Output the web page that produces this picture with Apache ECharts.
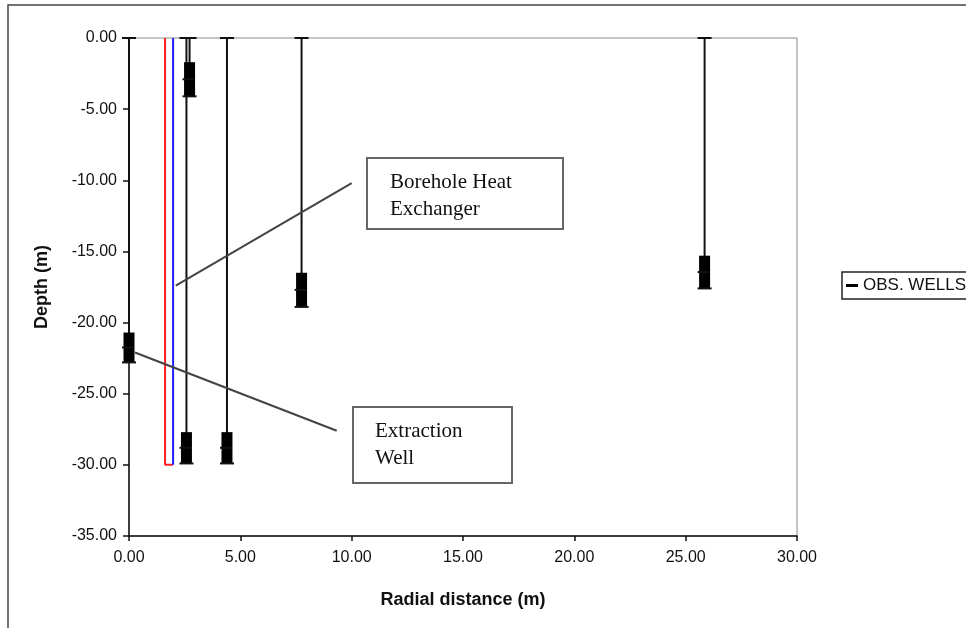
<!DOCTYPE html>
<html>
<head>
<meta charset="utf-8">
<script src="https://cdn.jsdelivr.net/npm/echarts@6/dist/echarts.min.js"></script>
<style>html,body{margin:0;padding:0;background:#fff;}#c{width:966px;height:628px;}</style>
</head>
<body>
<div id="c"></div>
<script>
// Observation wells: radial distance (m), screen top / bottom depth (m)
var wellX        = [0.00, 2.58, 2.72, 4.40, 7.75, 25.85];
var screenTop    = [-20.7, -27.7, -1.7, -27.7, -16.5, -15.3];
var screenBottom = [-22.8, -29.9, -4.1, -29.9, -18.9, -17.6];
// Borehole heat exchanger (U-loop)
var bheRed  = [[1.62, 0], [1.62, -30], [1.98, -30]];
var bheBlue = [[1.98, -30], [1.98, 0]];
// Axis ticks
var xTicks = {min: 0, max: 30, interval: 5};
var yTicks = {min: -35, max: 0, interval: 5};
// Annotation leader lines (data coords)
var bheLeader = [[2.1, -17.4], [10.0, -10.2]];
var extLeader = [[0.27, -22.1], [9.33, -27.6]];

var wellData = wellX.map(function (x, i) { return [x, screenTop[i], screenBottom[i]]; });

var chart = echarts.init(document.getElementById('c'));
var txtFont = 'Liberation Sans, Arial, sans-serif';

function renderWell(params, api) {
  var x = api.value(0), st = api.value(1), sb = api.value(2);
  var p0 = api.coord([x, 0]);
  var pt = api.coord([x, st]);
  var pb = api.coord([x, sb]);
  var pm = api.coord([x, (st + sb) / 2]);
  var col = '#111';
  return {
    type: 'group',
    children: [
      {type: 'line', shape: {x1: p0[0], y1: p0[1], x2: pb[0], y2: pb[1]}, style: {stroke: col, lineWidth: 2}},
      {type: 'line', shape: {x1: p0[0] - 7, y1: p0[1], x2: p0[0] + 7, y2: p0[1]}, style: {stroke: col, lineWidth: 2}},
      {type: 'rect', shape: {x: pt[0] - 5.5, y: pt[1], width: 11, height: pb[1] - pt[1]}, style: {fill: '#000'}},
      {type: 'line', shape: {x1: pm[0] - 7, y1: pm[1], x2: pm[0] + 5, y2: pm[1]}, style: {stroke: col, lineWidth: 2}},
      {type: 'line', shape: {x1: pb[0] - 7, y1: pb[1], x2: pb[0] + 7, y2: pb[1]}, style: {stroke: col, lineWidth: 2}}
    ]
  };
}

var option = {
  backgroundColor: '#fff',
  animation: false,
  grid: {left: 129, top: 38, right: 169, bottom: 92, show: true, borderColor: '#8a8a8a', borderWidth: 1, backgroundColor: 'transparent'},
  legend: {
    data: [{name: 'OBS. WELLS', icon: 'rect'}],
    left: 842, top: 272,
    itemWidth: 12, itemHeight: 3, itemGap: 5,
    padding: [5, 12, 5, 4],
    borderColor: '#222', borderWidth: 1.5,
    textStyle: {fontFamily: txtFont, fontSize: 17, color: '#111'}
  },
  xAxis: {
    type: 'value', min: xTicks.min, max: xTicks.max, interval: xTicks.interval,
    name: 'Radial distance (m)', nameLocation: 'middle', nameGap: 55,
    nameTextStyle: {fontFamily: txtFont, fontSize: 18, fontWeight: 'bold', color: '#111'},
    axisLine: {show: true, onZero: false, lineStyle: {color: '#111', width: 1.5}},
    axisTick: {show: true, length: 5, lineStyle: {color: '#111', width: 1.5}},
    axisLabel: {fontFamily: txtFont, fontSize: 16, color: '#111', margin: 14, formatter: function (v) { return v.toFixed(2); }},
    splitLine: {show: false}
  },
  yAxis: {
    type: 'value', min: yTicks.min, max: yTicks.max, interval: yTicks.interval,
    name: 'Depth (m)', nameLocation: 'middle', nameGap: 78, nameRotate: 90,
    nameTextStyle: {fontFamily: txtFont, fontSize: 18, fontWeight: 'bold', color: '#111'},
    axisLine: {show: true, onZero: false, lineStyle: {color: '#111', width: 1.5}},
    axisTick: {show: true, length: 6, lineStyle: {color: '#111', width: 1.5}},
    axisLabel: {fontFamily: txtFont, fontSize: 16, color: '#111', margin: 12, formatter: function (v) { return v.toFixed(2); }},
    splitLine: {show: false}
  },
  series: [
    {name: 'BHE red', type: 'line', data: bheRed, symbol: 'none', lineStyle: {color: '#ff2020', width: 2}, z: 3},
    {name: 'BHE blue', type: 'line', data: bheBlue, symbol: 'none', lineStyle: {color: '#2020ff', width: 2}, z: 3},
    {name: 'OBS. WELLS', type: 'custom', renderItem: renderWell, data: wellData, itemStyle: {color: '#000'}, z: 4,
     encode: {x: 0, y: [1, 2]}}
  ]
};
chart.setOption(option);

function px(p) { return chart.convertToPixel({gridIndex: 0}, p); }
var a1 = px(bheLeader[0]), a2 = px(bheLeader[1]);
var b1 = px(extLeader[0]), b2 = px(extLeader[1]);
var serif = 'Liberation Serif, Times New Roman, serif';

chart.setOption({
  graphic: [
    {type: 'rect', shape: {x: 8, y: 5, width: 1000, height: 700}, style: {fill: 'none', stroke: '#444', lineWidth: 1.5}, z: 100, silent: true},
    {type: 'line', shape: {x1: a1[0], y1: a1[1], x2: a2[0], y2: a2[1]}, style: {stroke: '#444', lineWidth: 2}, z: 100},
    {type: 'line', shape: {x1: b1[0], y1: b1[1], x2: b2[0], y2: b2[1]}, style: {stroke: '#444', lineWidth: 2}, z: 100},
    {type: 'rect', shape: {x: 367, y: 158, width: 196, height: 71}, style: {fill: '#fff', stroke: '#666', lineWidth: 2}, z: 100},
    {type: 'text', x: 390, y: 169, style: {text: 'Borehole Heat\nExchanger', font: '21px ' + serif, fill: '#111', lineHeight: 27}, z: 101},
    {type: 'rect', shape: {x: 353, y: 407, width: 159, height: 76}, style: {fill: '#fff', stroke: '#666', lineWidth: 2}, z: 100},
    {type: 'text', x: 375, y: 418, style: {text: 'Extraction\nWell', font: '21px ' + serif, fill: '#111', lineHeight: 27}, z: 101}
  ]
});
</script>
</body>
</html>
